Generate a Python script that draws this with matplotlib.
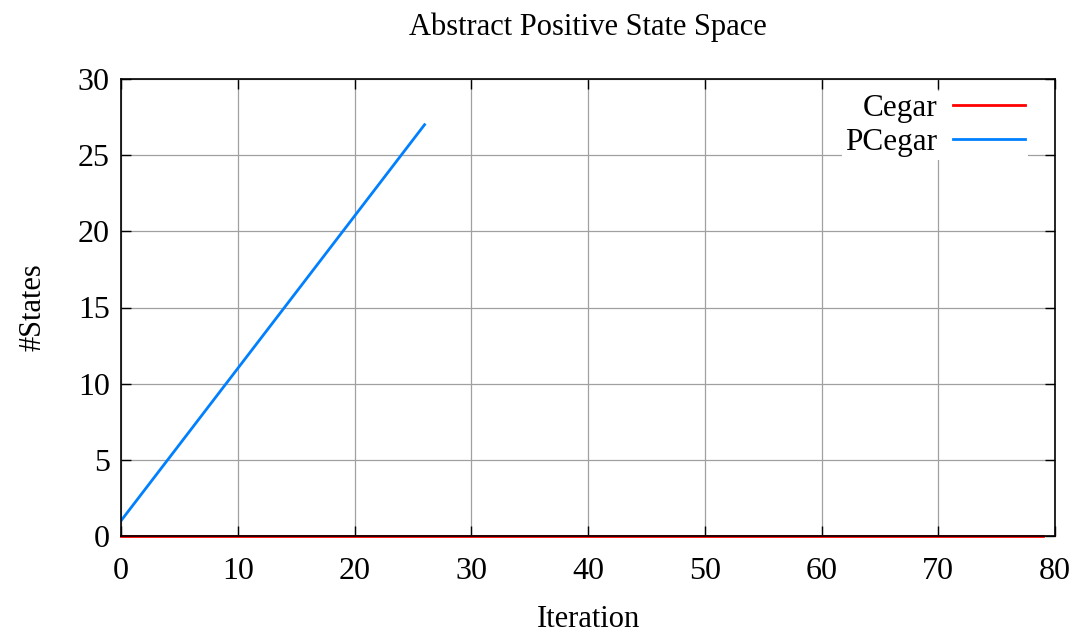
import matplotlib
matplotlib.use("Agg")
import matplotlib.pyplot as plt

cegar_x = [0, 79]
cegar_y = [0, 0]
pcegar_x = [0, 26]
pcegar_y = [1, 27]

title = "Abstract Positive State Space"
xlabel = "Iteration"
ylabel = "#States"
xticks = [0, 10, 20, 30, 40, 50, 60, 70, 80]
yticks = [0, 5, 10, 15, 20, 25, 30]

plt.rcParams['font.family'] = ['Liberation Serif', 'DejaVu Serif']
fig = plt.figure(figsize=(10.83, 6.34), dpi=100)
ax = fig.add_axes([121/1083, 1-536/634, (1055-121)/1083, (536-79)/634])

ax.plot(pcegar_x, pcegar_y, color='#0080ff', lw=2, label='PCegar', zorder=3)
ax.plot(cegar_x, cegar_y, color='#ff0000', lw=2, label='Cegar', zorder=3, clip_on=False)

ax.set_xlim(0, 80)
ax.set_ylim(0, 30)
ax.set_xticks(xticks)
ax.set_yticks(yticks)
ax.grid(True, color='#a0a0a0', lw=0.9)
ax.set_axisbelow(True)
ax.tick_params(direction='in', length=7, width=1, top=True, right=True, labelsize=23)
ax.tick_params(axis='y', pad=8)
ax.tick_params(axis='x', pad=15)
for s in ax.spines.values():
    s.set_linewidth(1.2)
    s.set_zorder(4)

ax.set_title(title, fontsize=22, pad=32)
ax.set_xlabel(xlabel, fontsize=22, labelpad=14)
ax.set_ylabel(ylabel, fontsize=22, labelpad=22)

h, l = ax.get_legend_handles_labels()
leg = ax.legend(h[::-1], l[::-1], loc='upper right', markerfirst=False, fontsize=22.5,
                frameon=True, fancybox=False, framealpha=1, edgecolor='white',
                handlelength=2.3, handletextpad=0.5, borderpad=0.1, labelspacing=0.15,
                bbox_to_anchor=(0.988, 1.008))
leg.get_frame().set_linewidth(0)
for t in leg.get_texts():
    t.set_ha('right')

fig.savefig("out.png", dpi=100)
